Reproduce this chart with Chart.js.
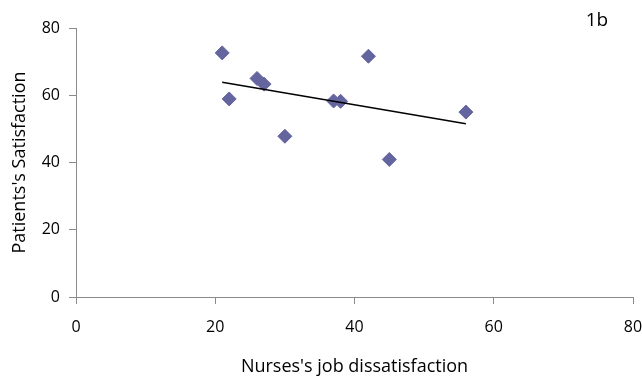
<!DOCTYPE html>
<html>
<head>
<meta charset="utf-8">
<script src="https://cdn.jsdelivr.net/npm/chart.js@4/dist/chart.umd.min.js"></script>
<style>
  html, body { margin: 0; padding: 0; background: #ffffff; }
  #wrap { width: 642px; height: 378px; }
</style>
</head>
<body>
<div id="wrap"><canvas id="chart" width="642" height="378"></canvas></div>
<script>
// Nurses' job dissatisfaction vs. patients' satisfaction, one point per ward
const dissatisfaction = [21, 22, 26, 27, 30, 37, 38, 42, 45, 56];
const satisfaction    = [72.6, 58.9, 65.0, 63.3, 47.8, 58.3, 58.2, 71.6, 40.9, 55.0];
const axisTicks = [0, 20, 40, 60, 80];
const panelLabel = '1b';
const xTitle = "Nurses's job dissatisfaction";
const yTitle = "Patients's Satisfaction";

const points = dissatisfaction.map((x, i) => ({ x: x, y: satisfaction[i] }));

// Least-squares linear trend across the observed range
const n = points.length;
const mx = dissatisfaction.reduce((a, b) => a + b, 0) / n;
const my = satisfaction.reduce((a, b) => a + b, 0) / n;
let sxy = 0, sxx = 0;
for (let i = 0; i < n; i++) {
  sxy += (dissatisfaction[i] - mx) * (satisfaction[i] - my);
  sxx += (dissatisfaction[i] - mx) ** 2;
}
const slope = sxy / sxx;
const intercept = my - slope * mx;
const xLo = Math.min(...dissatisfaction), xHi = Math.max(...dissatisfaction);
const trend = [
  { x: xLo, y: intercept + slope * xLo },
  { x: xHi, y: intercept + slope * xHi }
];

const FONT = "'Open Sans', 'DejaVu Sans', sans-serif";
const AXIS_GREY = '#8a8a8a';

const panelTag = {
  id: 'panelTag',
  afterDraw(chart) {
    const ctx = chart.ctx;
    ctx.save();
    ctx.font = "19px " + FONT;
    ctx.fillStyle = '#000000';
    ctx.textAlign = 'center';
    ctx.textBaseline = 'middle';
    ctx.fillText(panelLabel, 597, 21);
    ctx.restore();
  }
};

new Chart(document.getElementById('chart'), {
  type: 'scatter',
  data: {
    datasets: [
      {
        type: 'line',
        label: 'Trend',
        data: trend,
        borderColor: '#000000',
        borderWidth: 1.5,
        pointRadius: 0,
        fill: false
      },
      {
        label: 'Wards',
        data: points,
        pointStyle: 'rectRot',
        pointRadius: 7,
        pointHoverRadius: 7,
        backgroundColor: '#64649f',
        borderColor: '#64649f',
        borderWidth: 1
      }
    ]
  },
  options: {
    responsive: false,
    animation: false,
    events: [],
    layout: { padding: { left: 0, right: 9, top: 28, bottom: 0 } },
    plugins: {
      legend: { display: false },
      tooltip: { enabled: false }
    },
    scales: {
      x: {
        type: 'linear',
        min: 0, max: 80,
        afterBuildTicks(scale) { scale.ticks = axisTicks.map(v => ({ value: v })); },
        afterFit(scale) {
          scale.height = 81;
          scale.paddingLeft = 0;
          scale.paddingRight = 0;
        },
        grid: { drawOnChartArea: false, drawTicks: true, tickLength: 7, color: AXIS_GREY },
        border: { display: true, color: AXIS_GREY, width: 1 },
        ticks: { color: '#000000', font: { family: FONT, size: 16 }, padding: 14 },
        title: {
          display: true, text: xTitle, color: '#000000',
          font: { family: FONT, size: 18 }, padding: { top: 0, bottom: 0 }
        }
      },
      y: {
        type: 'linear',
        min: 0, max: 80,
        afterBuildTicks(scale) { scale.ticks = axisTicks.map(v => ({ value: v })); },
        afterFit(scale) {
          scale.width = 76;
          scale.paddingTop = 0;
          scale.paddingBottom = 0;
        },
        grid: { drawOnChartArea: false, drawTicks: true, tickLength: 7, color: AXIS_GREY },
        border: { display: true, color: AXIS_GREY, width: 1 },
        ticks: { color: '#000000', font: { family: FONT, size: 16 }, padding: 9 },
        title: {
          display: true, text: yTitle, color: '#000000',
          font: { family: FONT, size: 18 }, padding: { top: 9, bottom: 0 }
        }
      }
    }
  },
  plugins: [panelTag]
});
</script>
</body>
</html>
